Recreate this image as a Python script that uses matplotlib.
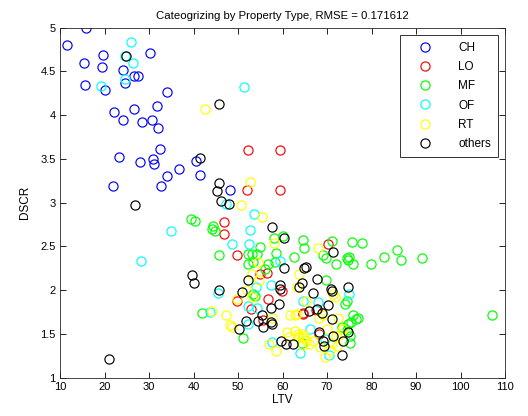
import matplotlib
matplotlib.use("Agg")
import matplotlib.pyplot as plt

plt.rcParams['font.family'] = ['Liberation Sans', 'DejaVu Sans']

title = "Cateogrizing by Property Type, RMSE = 0.171612"
x_label = "LTV"
y_label = "DSCR"
categories = ["CH", "LO", "MF", "OF", "RT", "others"]
colors = ["#0000ff", "#ff0000", "#00ff00", "#00ffff", "#ffff00", "#000000"]

ch_ltv = [15.8, 11.6, 19.7, 15.3, 19.4, 30.2, 24.1, 24.5, 26.6, 27.6, 15.7, 20.2, 34.0, 22.2, 26.6, 31.9,
          24.1, 28.4, 30.7, 32.0, 32.4, 23.2, 28.0, 30.9, 31.1, 22.0, 32.8, 34.0, 36.7, 40.6, 41.5, 48.3]
ch_dscr = [5.00, 4.80, 4.69, 4.60, 4.55, 4.71, 4.51, 4.37, 4.45, 4.45, 4.34, 4.29, 4.26, 4.03, 4.07, 4.10,
           3.94, 3.92, 3.94, 3.85, 3.61, 3.52, 3.46, 3.50, 3.44, 3.19, 3.19, 3.30, 3.38, 3.48, 3.32, 3.14]

lo_ltv = [52.2, 59.4, 52.1, 59.4, 46.9, 46.9, 49.8, 56.5, 54.9, 59.8, 49.7, 56.8, 52.9, 55.6, 64.5, 70.3,
          64.7, 67.5, 68.3]
lo_dscr = [3.60, 3.60, 3.14, 3.14, 2.78, 2.64, 2.40, 2.20, 2.18, 1.99, 1.88, 1.90, 1.78, 1.66, 1.73, 2.53,
           1.74, 1.77, 1.50]

mf_ltv = [39.4, 40.4, 44.2, 44.8, 44.4, 41.9, 58.0, 60.0, 64.5, 55.0, 45.7, 52.3, 53.1, 54.2, 58.5, 62.6,
          52.2, 53.4, 56.8, 58.3, 56.1, 53.3, 64.9, 71.1, 69.0, 69.7, 75.7, 77.9, 74.4, 74.8, 75.0, 75.8,
          72.0, 79.8, 82.8, 85.8, 86.6, 91.4, 107.0, 69.7, 53.8, 51.1, 64.3, 74.0, 74.4, 75.9, 76.6, 75.5,
          74.8, 77.0, 74.4, 75.2, 75.2, 73.3]
mf_dscr = [2.81, 2.79, 2.70, 2.68, 2.73, 1.74, 2.60, 2.62, 2.57, 2.49, 2.40, 2.41, 2.41, 2.41, 2.42, 2.38,
           2.30, 2.32, 2.30, 2.32, 2.24, 1.96, 2.48, 2.56, 2.40, 2.37, 2.55, 2.54, 2.37, 2.34, 2.38, 2.30,
           2.30, 2.30, 2.38, 2.46, 2.34, 2.37, 1.72, 2.11, 1.93, 1.45, 1.39, 1.84, 1.87, 1.71, 1.67, 1.64,
           1.61, 1.68, 1.54, 1.48, 1.39, 1.58]

of_ltv = [26.0, 24.6, 26.4, 24.7, 19.3, 34.9, 28.2, 51.4, 47.2, 53.5, 52.7, 48.7, 52.5, 59.4, 57.4, 54.0,
          45.6, 64.5, 43.7, 52.3, 54.2, 52.2, 57.6, 63.9, 67.9, 66.2, 69.6, 70.5, 74.9]
of_dscr = [4.84, 4.68, 4.59, 4.41, 4.33, 2.67, 2.33, 4.32, 2.98, 2.87, 2.69, 2.53, 2.53, 2.33, 2.06, 2.03,
           1.97, 1.88, 1.75, 1.82, 1.79, 1.61, 1.41, 1.28, 1.86, 1.56, 1.44, 1.26, 1.96]

rt_ltv = [42.5, 52.6, 50.7, 55.4, 58.0, 54.6, 53.2, 54.7, 63.7, 63.2, 52.0, 53.2, 49.8, 44.1, 47.3, 57.6,
          48.2, 48.7, 61.7, 62.8, 61.0, 62.8, 64.3, 61.5, 63.4, 64.8, 57.0, 58.5, 68.0, 71.4, 71.8, 65.3,
          63.2, 69.0, 68.2, 72.5, 63.5, 64.5, 65.3, 66.8, 66.0, 64.5, 69.9, 69.6, 72.2, 70.7, 68.5, 71.2,
          72.0, 73.0, 73.5]
rt_dscr = [4.07, 3.23, 2.97, 2.83, 2.54, 2.32, 2.18, 2.11, 2.18, 2.04, 2.00, 1.92, 1.90, 1.76, 1.71, 1.68,
           1.60, 1.58, 1.71, 1.72, 1.52, 1.53, 1.50, 1.46, 1.46, 1.48, 1.38, 1.30, 2.48, 1.96, 1.92, 1.87,
           1.73, 1.71, 1.68, 1.68, 1.50, 1.45, 1.43, 1.42, 1.38, 1.37, 1.56, 1.23, 1.36, 1.32, 1.35, 1.40,
           1.48, 1.50, 1.55]

ot_ltv = [24.8, 41.5, 26.8, 39.7, 40.2, 21.0, 45.7, 45.7, 45.3, 46.2, 48.0, 57.6, 60.3, 60.4, 52.2, 64.8,
          64.3, 59.4, 59.4, 50.8, 45.7, 71.4, 65.2, 63.7, 67.8, 66.9, 70.8, 71.1, 74.8, 57.4, 59.3, 55.3,
          54.6, 57.4, 55.7, 57.6, 51.7, 50.3, 59.7, 60.7, 62.3, 70.3, 66.0, 67.7, 68.8, 71.1, 68.2, 71.3,
          69.2, 69.4, 73.7, 74.7, 73.4]
ot_dscr = [4.67, 3.51, 2.97, 2.17, 2.08, 1.21, 4.13, 3.22, 3.13, 3.02, 2.98, 2.72, 2.60, 2.25, 2.12, 2.25,
           2.08, 2.06, 2.01, 1.98, 2.00, 2.43, 2.26, 2.03, 2.13, 1.97, 2.01, 1.99, 2.04, 1.79, 1.84, 1.71,
           1.65, 1.63, 1.58, 1.61, 1.65, 1.56, 1.42, 1.38, 1.38, 1.83, 1.76, 1.78, 1.74, 1.67, 1.52, 1.48,
           1.42, 1.36, 1.42, 1.52, 1.26]

series = [(ch_ltv, ch_dscr), (lo_ltv, lo_dscr), (mf_ltv, mf_dscr),
          (of_ltv, of_dscr), (rt_ltv, rt_dscr), (ot_ltv, ot_dscr)]

x_ticks = [10, 20, 30, 40, 50, 60, 70, 80, 90, 100, 110]
y_ticks = [1, 1.5, 2, 2.5, 3, 3.5, 4, 4.5, 5]
y_ticklabels = ["1", "1.5", "2", "2.5", "3", "3.5", "4", "4.5", "5"]

fig = plt.figure(figsize=(5.28, 4.16), dpi=100)
fig.patch.set_facecolor("white")
ax = fig.add_axes([60/528, 1 - 377.5/416, 445/528, 350/416])

for (xs, ys), name, col in zip(series, categories, colors):
    ax.plot(xs, ys, linestyle="none", marker="o", markersize=6.6, markerfacecolor="none",
            markeredgecolor=col, markeredgewidth=0.85, label=name)

ax.set_xlim(10, 110)
ax.set_ylim(1, 5)
ax.set_xticks(x_ticks)
ax.set_yticks(y_ticks)
ax.set_yticklabels(y_ticklabels)
ax.tick_params(direction="in", length=4, width=0.6, labelsize=8, top=True, right=True, pad=3)
for s in ax.spines.values():
    s.set_linewidth(0.6)
    s.set_color("#262626")
ax.set_title(title, fontsize=8.2, pad=6)
ax.set_xlabel(x_label, fontsize=8.5, labelpad=2)
ax.set_ylabel(y_label, fontsize=8.5, labelpad=7)

leg = ax.legend(loc="upper right", fontsize=8.5, frameon=True, fancybox=False, edgecolor="black",
                labelspacing=0.62, handlelength=3.0, handletextpad=1.3, borderpad=0.6,
                borderaxespad=0.6, numpoints=1)
leg.get_frame().set_linewidth(0.7)

fig.savefig("out.png", dpi=100, facecolor="white")
